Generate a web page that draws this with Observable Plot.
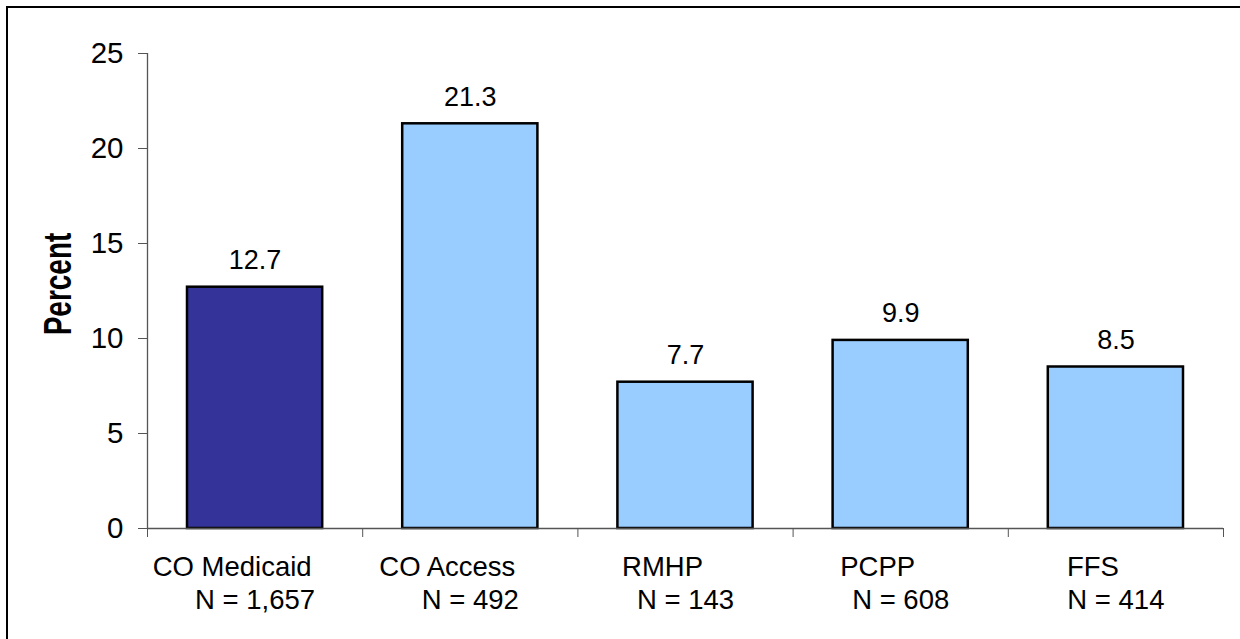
<!DOCTYPE html>
<html>
<head>
<meta charset="utf-8">
<script src="https://cdn.jsdelivr.net/npm/d3@7"></script>
<script src="https://cdn.jsdelivr.net/npm/@observablehq/plot@0.6"></script>
<style>
  html, body { margin: 0; padding: 0; background: #fff; }
  #wrap { position: relative; width: 1240px; height: 639px; overflow: hidden; }
  #frame { position: absolute; left: 6px; top: 6px; width: 1300px; height: 700px;
           border-left: 2px solid #000; border-top: 2px solid #000; pointer-events: none; }
</style>
</head>
<body>
<div id="wrap"><div id="frame"></div></div>
<script>
const categories = ["CO Medicaid", "CO Access", "RMHP", "PCPP", "FFS"];
const sampleSizes = ["N = 1,657", "N = 492", "N = 143", "N = 608", "N = 414"];
const percents = [12.7, 21.3, 7.7, 9.9, 8.5];
const fills = ["#333399", "#99CCFF", "#99CCFF", "#99CCFF", "#99CCFF"];
const yTicks = [0, 5, 10, 15, 20, 25];

const data = categories.map((c, i) => ({
  i, category: c, n: sampleSizes[i], value: percents[i], fill: fills[i]
}));
const boundaries = d3.range(categories.length + 1);

const font = "Arial, 'Liberation Sans', sans-serif";

const chart = Plot.plot({
  width: 1240,
  height: 639,
  marginLeft: 147,
  marginRight: 17,
  marginTop: 53,
  marginBottom: 111,
  style: { fontFamily: font, background: "transparent", overflow: "visible" },
  x: { type: "linear", domain: [0, categories.length], axis: null },
  y: { domain: [0, 25], axis: null },
  marks: [
    Plot.rectY(data, {
      x1: "i", x2: d => d.i + 1, y1: 0, y2: "value",
      fill: "fill", stroke: "#000", strokeWidth: 2.5,
      insetLeft: 40, insetRight: 40
    }),
    Plot.ruleX([0], { stroke: "#555", strokeWidth: 1.3 }),
    Plot.ruleY([0], { stroke: "#555", strokeWidth: 1.3 }),
    Plot.axisY({
      ticks: yTicks, tickSize: 9, tickPadding: 15, fontSize: 29.5,
      stroke: "#555", color: "#000", label: null
    }),
    Plot.axisX({
      ticks: boundaries, tickSize: 9, tickFormat: () => "", stroke: "#555", label: null
    }),
    Plot.text(data, {
      x: d => d.i + 0.5, y: "value", text: d => d.value.toFixed(1),
      lineAnchor: "bottom", dy: -18, fontSize: 27, fill: "#000"
    }),
    Plot.text(data, {
      x: d => d.i + 0.5, y: 0, text: "category",
      lineAnchor: "bottom", dy: 47, dx: -23, fontSize: 27.5, fill: "#000"
    }),
    Plot.text(data, {
      x: d => d.i + 0.5, y: 0, text: "n",
      lineAnchor: "bottom", dy: 80, fontSize: 27.5, fill: "#000"
    }),
    Plot.text(["Percent"], {
      frameAnchor: "left", text: d => d, rotate: -90, dx: -89, dy: -7,
      textAnchor: "middle", lineAnchor: "middle",
      fontSize: 28, fontWeight: "bold", fill: "#000", className: "ylabel"
    })
  ]
});
document.getElementById("wrap").prepend(chart);
// widen rotated axis title across its glyph height, as in the reference
d3.select(chart).selectAll("g.ylabel text").each(function () {
  const t = this.getAttribute("transform") || "";
  this.setAttribute("transform", t + " scale(1,1.4)");
});
</script>
</body>
</html>
